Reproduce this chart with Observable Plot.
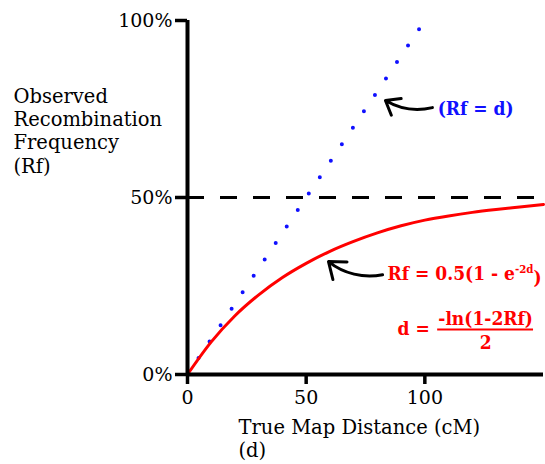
<!DOCTYPE html>
<html><head><meta charset="utf-8">
<script src="https://cdn.jsdelivr.net/npm/d3@7"></script>
<script src="https://cdn.jsdelivr.net/npm/@observablehq/plot@0.6"></script>
<style>body{margin:0;background:#fff} .cond{font-stretch:condensed}</style>
</head><body><div id="chart"></div>
<script>
// ---- data ----
const distance  = [0, 10, 20, 30, 40, 50, 60, 70, 80, 90, 100, 110, 120, 130, 140, 150];
const haldaneRf = [0, 9.2, 16.6, 22.5, 27.4, 31.4, 34.8, 37.6, 40.0, 42.0, 43.6, 44.8, 45.8, 46.6, 47.3, 48.0];
const linearD   = [0, 100];
const linearRf  = [0, 100];
const thresholdRf = [50];
const xTicks = [0, 50, 100];
const yTicks = [0, 50, 100];
const yTickLabels = ["0%", "50%", "100%"];
const yTitle = "Observed\nRecombination\nFrequency\n(Rf)";
const xTitle = "True Map Distance (cM)\n(d)";
const blueLabel = "(Rf = d)";
const redLabelParts = ["Rf = 0.5(1 - e", "-2d", ")"];
const fracLeft = "d =";
const fracNum = "-ln(1-2Rf)";
const fracDen = "2";

const redLabel = redLabelParts.join("");
const curve = distance.map((d, i) => ({d, rf: haldaneRf[i]}));
const line1 = linearD.map((d, i) => ({d, rf: linearRf[i]}));

const font = "DejaVu Serif";
const condFont = "'DejaVu Serif Condensed', 'DejaVu Serif'";
const plot = Plot.plot({
  width: 545, height: 464,
  marginLeft: 187, marginRight: 2, marginTop: 20, marginBottom: 90,
  style: {fontFamily: font, fontSize: "19px", color: "black", background: "white", overflow: "visible"},
  x: {domain: [0, 150]},
  y: {domain: [0, 100]},
  marks: [
    Plot.ruleY(thresholdRf, {stroke: "black", strokeWidth: 3, strokeDasharray: "17,16"}),
    Plot.line(line1, {x: "d", y: "rf", stroke: "#1010ff", strokeWidth: 4, strokeDasharray: "0,19.8", strokeLinecap: "round"}),
    Plot.line(curve, {x: "d", y: "rf", stroke: "#ff0000", strokeWidth: 3, curve: "monotone-x"}),
    Plot.ruleX([0], {strokeWidth: 4, stroke: "black"}),
    Plot.ruleY([0], {strokeWidth: 4, stroke: "black"}),
    Plot.axisX({ticks: xTicks, tickSize: 10, tickPadding: 6, strokeWidth: 3.5, fontSize: 19, label: null}),
    Plot.axisY({ticks: yTicks, tickFormat: d => yTickLabels[yTicks.indexOf(d)], tickSize: 12, tickPadding: 3, strokeWidth: 3.5, fontSize: 19, label: null}),
    Plot.text([yTitle], {text: d => d, frameAnchor: "top-left", dx: -174, dy: 66, textAnchor: "start", lineAnchor: "top", lineHeight: 1.19, fontSize: 19.5}),
    Plot.text([xTitle], {text: d => d, frameAnchor: "bottom-left", dx: 51, dy: 44, textAnchor: "start", lineAnchor: "top", lineHeight: 1.15, fontSize: 19.5}),
    // annotations
    Plot.arrow([blueLabel], {x1: () => 103.2, y1: () => 75.4, x2: () => 83.4, y2: () => 77.4, bend: 22, stroke: "black", strokeWidth: 3, headLength: 11, headAngle: 75}),
    Plot.text([blueLabel], {text: d => d, x: () => 105.4, y: () => 75.1, textAnchor: "start", fill: "#1010ff", fontWeight: "bold", fontSize: 19, fontFamily: condFont, className: "cond"}),
    Plot.arrow([redLabel], {x1: () => 82.2, y1: () => 28.2, x2: () => 59.4, y2: () => 31.9, bend: 25, stroke: "black", strokeWidth: 3, headLength: 11, headAngle: 75}),
    Plot.text([redLabel], {text: d => d, x: () => 84.3, y: () => 28.5, textAnchor: "start", fill: "#ff0000", fontWeight: "bold", fontSize: 19, fontFamily: condFont, className: "cond"}),
    Plot.text([fracLeft], {text: d => d, x: () => 88.5, y: () => 13.0, textAnchor: "start", fill: "#ff0000", fontWeight: "bold", fontSize: 19, fontFamily: condFont, className: "cond"}),
    Plot.text([fracNum], {text: d => d, x: () => 125.6, y: () => 15.8, textAnchor: "middle", fill: "#ff0000", fontWeight: "bold", fontSize: 19, fontFamily: condFont, className: "cond"}),
    Plot.ruleY([fracNum], {y: () => 12.7, x1: () => 105.4, x2: () => 145.8, stroke: "#ff0000", strokeWidth: 2}),
    Plot.text([fracDen], {text: d => d, x: () => 125.6, y: () => 9.0, textAnchor: "middle", fill: "#ff0000", fontWeight: "bold", fontSize: 19, fontFamily: condFont, className: "cond"})
  ]
});

// superscript in the Haldane formula
d3.select(plot).selectAll("text").each(function() {
  if (this.textContent === redLabel) {
    const t = d3.select(this);
    t.text(null);
    t.append("tspan").text(redLabelParts[0]);
    t.append("tspan").attr("dy", "-0.55em").attr("font-size", "0.6em").text(redLabelParts[1]);
    t.append("tspan").attr("dy", "0.55em").text(redLabelParts[2]);
  }
});
document.getElementById("chart").appendChild(plot);
</script>
</body></html>
